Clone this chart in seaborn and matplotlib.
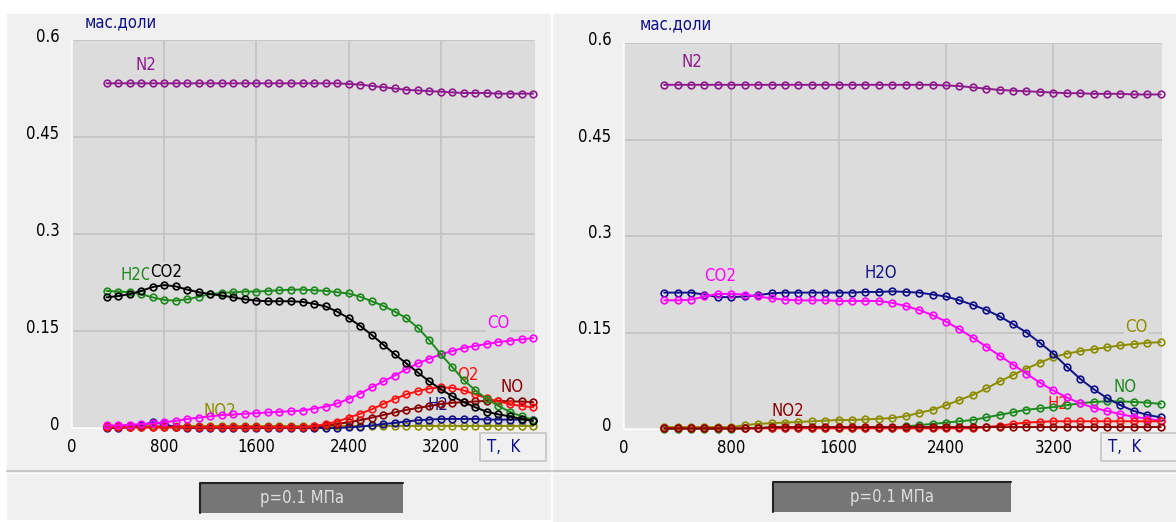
"""
Equilibrium composition vs temperature, two panels (mass fractions).
Recreated with seaborn/matplotlib, saved to out.png
"""

import matplotlib
matplotlib.use('Agg')
import matplotlib.pyplot as plt
import matplotlib.transforms as mtrans
from matplotlib.patches import Rectangle
from matplotlib.lines import Line2D
from matplotlib import font_manager
import seaborn as sns

# ── Data ──────────────────────────────────────────────────────────────────────
T = [300, 400, 500, 600, 700, 800, 900, 1000, 1100, 1200,
     1300, 1400, 1500, 1600, 1700, 1800, 1900, 2000, 2100, 2200,
     2300, 2400, 2500, 2600, 2700, 2800, 2900, 3000, 3100, 3200,
     3300, 3400, 3500, 3600, 3700, 3800, 3900, 4000]

# left panel
N2_L = [0.533, 0.533, 0.533, 0.533, 0.533, 0.533, 0.533, 0.533, 0.533, 0.533,
        0.533, 0.533, 0.533, 0.533, 0.533, 0.533, 0.533, 0.533, 0.533, 0.533,
        0.533, 0.532, 0.531, 0.529, 0.527, 0.525, 0.523, 0.522, 0.521, 0.520,
        0.519, 0.518, 0.518, 0.518, 0.517, 0.517, 0.517, 0.517]
H2O_L = [0.212, 0.211, 0.210, 0.207, 0.202, 0.198, 0.197, 0.199, 0.203, 0.207,
         0.209, 0.210, 0.211, 0.211, 0.212, 0.213, 0.214, 0.214, 0.213, 0.212,
         0.210, 0.208, 0.203, 0.196, 0.189, 0.180, 0.170, 0.155, 0.136, 0.114,
         0.094, 0.074, 0.058, 0.045, 0.034, 0.025, 0.018, 0.013]
CO2_L = [0.202, 0.204, 0.207, 0.212, 0.218, 0.221, 0.219, 0.214, 0.210, 0.207,
         0.205, 0.202, 0.199, 0.197, 0.196, 0.196, 0.196, 0.195, 0.192, 0.188,
         0.180, 0.170, 0.158, 0.144, 0.129, 0.114, 0.100, 0.086, 0.072, 0.060,
         0.049, 0.040, 0.032, 0.025, 0.021, 0.018, 0.014, 0.011]
CO_L = [0.004, 0.004, 0.005, 0.006, 0.007, 0.009, 0.011, 0.014, 0.016, 0.018,
        0.020, 0.021, 0.022, 0.023, 0.024, 0.025, 0.026, 0.027, 0.030, 0.033,
        0.038, 0.045, 0.053, 0.063, 0.072, 0.081, 0.091, 0.100, 0.107, 0.114,
        0.119, 0.124, 0.127, 0.130, 0.133, 0.135, 0.137, 0.139]
O2_L = [0.001, 0.001, 0.001, 0.001, 0.001, 0.001, 0.001, 0.001, 0.001, 0.001,
        0.001, 0.001, 0.001, 0.001, 0.001, 0.001, 0.001, 0.001, 0.003, 0.006,
        0.010, 0.016, 0.022, 0.029, 0.037, 0.045, 0.052, 0.057, 0.061, 0.063,
        0.062, 0.058, 0.052, 0.046, 0.041, 0.037, 0.034, 0.032]
NO_L = [0.001, 0.001, 0.001, 0.001, 0.001, 0.001, 0.001, 0.001, 0.001, 0.001,
        0.001, 0.001, 0.001, 0.001, 0.001, 0.001, 0.001, 0.001, 0.002, 0.004,
        0.006, 0.009, 0.012, 0.016, 0.020, 0.024, 0.028, 0.031, 0.034, 0.037,
        0.039, 0.040, 0.041, 0.042, 0.042, 0.041, 0.041, 0.040]
H2_L = [0.000, 0.000, 0.001, 0.004, 0.009, 0.006, 0.001, 0.000, 0.000, 0.000,
        0.000, 0.000, 0.000, 0.000, 0.000, 0.000, 0.000, 0.000, 0.000, 0.000,
        0.000, 0.001, 0.002, 0.004, 0.006, 0.008, 0.010, 0.012, 0.013, 0.014,
        0.014, 0.014, 0.014, 0.013, 0.013, 0.013, 0.013, 0.013]
NO2_L = [0.003, 0.003, 0.003, 0.003, 0.003, 0.003, 0.003, 0.003, 0.003, 0.003,
         0.003, 0.003, 0.003, 0.003, 0.003, 0.003, 0.003, 0.003, 0.003, 0.003,
         0.003, 0.003, 0.003, 0.003, 0.003, 0.003, 0.003, 0.003, 0.003, 0.003,
         0.003, 0.003, 0.003, 0.003, 0.003, 0.003, 0.003, 0.003]

# right panel
N2_R = [0.535, 0.535, 0.535, 0.535, 0.535, 0.535, 0.535, 0.535, 0.535, 0.535,
        0.535, 0.535, 0.535, 0.535, 0.535, 0.535, 0.535, 0.535, 0.535, 0.535,
        0.535, 0.534, 0.533, 0.531, 0.529, 0.527, 0.526, 0.525, 0.524, 0.523,
        0.522, 0.522, 0.521, 0.521, 0.521, 0.520, 0.520, 0.520]
H2O_R = [0.212, 0.212, 0.212, 0.209, 0.205, 0.205, 0.206, 0.208, 0.211, 0.212,
         0.212, 0.212, 0.212, 0.212, 0.212, 0.213, 0.213, 0.214, 0.213, 0.212,
         0.209, 0.206, 0.200, 0.193, 0.185, 0.175, 0.163, 0.150, 0.134, 0.117,
         0.097, 0.078, 0.062, 0.048, 0.037, 0.028, 0.022, 0.018]
CO2_R = [0.200, 0.200, 0.201, 0.206, 0.210, 0.210, 0.209, 0.206, 0.203, 0.201,
         0.200, 0.200, 0.200, 0.199, 0.199, 0.199, 0.199, 0.196, 0.191, 0.185,
         0.177, 0.167, 0.155, 0.142, 0.128, 0.114, 0.100, 0.086, 0.072, 0.060,
         0.049, 0.040, 0.033, 0.028, 0.023, 0.019, 0.016, 0.013]
CO_R = [0.003, 0.003, 0.003, 0.003, 0.003, 0.003, 0.006, 0.008, 0.009, 0.010,
        0.011, 0.012, 0.013, 0.014, 0.014, 0.015, 0.016, 0.017, 0.020, 0.025,
        0.030, 0.037, 0.045, 0.053, 0.063, 0.074, 0.084, 0.094, 0.103, 0.112,
        0.117, 0.121, 0.124, 0.127, 0.130, 0.132, 0.134, 0.135]
NO_R = [0.000, 0.000, 0.000, 0.000, 0.000, 0.000, 0.001, 0.002, 0.002, 0.002,
        0.002, 0.002, 0.002, 0.002, 0.002, 0.002, 0.002, 0.002, 0.004, 0.006,
        0.008, 0.010, 0.012, 0.014, 0.018, 0.022, 0.026, 0.030, 0.032, 0.034,
        0.037, 0.040, 0.042, 0.043, 0.043, 0.042, 0.041, 0.039]
NO2_R = [0.001, 0.001, 0.001, 0.001, 0.001, 0.001, 0.001, 0.001, 0.003, 0.003,
         0.003, 0.003, 0.003, 0.003, 0.003, 0.003, 0.003, 0.003, 0.003, 0.003,
         0.003, 0.003, 0.003, 0.003, 0.003, 0.003, 0.003, 0.003, 0.003, 0.003,
         0.003, 0.003, 0.003, 0.003, 0.003, 0.003, 0.003, 0.003]
H2_R = [0.001, 0.001, 0.001, 0.001, 0.001, 0.001, 0.001, 0.001, 0.001, 0.001,
        0.001, 0.001, 0.001, 0.001, 0.001, 0.001, 0.001, 0.001, 0.001, 0.001,
        0.001, 0.001, 0.001, 0.001, 0.003, 0.005, 0.008, 0.010, 0.011, 0.012,
        0.012, 0.012, 0.012, 0.012, 0.012, 0.012, 0.012, 0.012]

X_TICKS = [0, 800, 1600, 2400, 3200]
Y_TICKS = [0, 0.15, 0.3, 0.45, 0.6]
Y_TICKLABELS = ['0', '0.15', '0.3', '0.45', '0.6']

# ── Style ─────────────────────────────────────────────────────────────────────
W, H = 1176, 522
PANEL_BG = '#f0f0f0'
PLOT_BG  = '#dcdcdc'
GRID     = '#c4c4c4'
NAVY     = '#10108a'

C_N2   = '#8e1a8e'
C_GRN  = '#1e8a1e'
C_BLK  = '#000000'
C_MAG  = '#ff00ff'
C_OLV  = '#8c8c00'
C_RED  = '#ff1010'
C_DRED = '#8b0000'
C_BLUE = '#10108a'

sns.set_style('white')
plt.rcParams['font.family'] = ['DejaVu Sans']
condensed = any(f.name == 'DejaVu Sans' and f.stretch == 'condensed'
                for f in font_manager.fontManager.ttflist)
if condensed:
    plt.rcParams['font.stretch'] = 'condensed'
    FS = 12
else:
    FS = 11


def px_box(x0, y0, x1, y1):
    # image pixels (top-left origin) -> figure fraction rect
    return [x0 / W, 1 - y1 / H, (x1 - x0) / W, (y1 - y0) / H]


fig = plt.figure(figsize=(W / 100, H / 100), dpi=100, facecolor='white')


def fig_rect(x0, y0, x1, y1, **kw):
    r = Rectangle((x0 / W, 1 - y1 / H), (x1 - x0) / W, (y1 - y0) / H,
                  transform=fig.transFigure, **kw)
    fig.patches.append(r)
    return r


def fig_line(xs, ys, **kw):
    fig.lines.append(Line2D([x / W for x in xs], [1 - y / H for y in ys],
                            transform=fig.transFigure, **kw))


PANELS = [
    dict(bg=(7, 14, 551, 520), ax=(72, 40, 535, 428), xmax=4017,
         sep=(7, 551, 471), button=(200, 483, 403, 513), tk=(480, 433, 546, 461),
         ylab=(85, 22),
         series=[(N2_L, C_N2), (NO2_L, C_OLV), (H2_L, C_BLUE), (NO_L, C_DRED),
                 (O2_L, C_RED), (CO_L, C_MAG), (H2O_L, C_GRN), (CO2_L, C_BLK)],
         labels=[('N2', 547, 0.561, C_N2), ('H2O', 425, 0.237, C_GRN),
                 ('CO2', 677, 0.241, C_BLK), ('NO2', 1145, 0.026, C_OLV),
                 ('CO', 3600, 0.162, C_MAG), ('O2', 3340, 0.082, C_RED),
                 ('NO', 3722, 0.063, C_DRED), ('H2', 3080, 0.036, C_BLUE)]),
    dict(bg=(553, 14, 1176, 522), ax=(624, 43, 1162, 429), xmax=4010,
         sep=(553, 1176, 471), button=(773, 482, 1011, 512), tk=(1101, 433, 1182, 461),
         ylab=(640, 24),
         series=[(N2_R, C_N2), (NO_R, C_GRN), (CO_R, C_OLV), (H2O_R, C_BLUE),
                 (CO2_R, C_MAG), (H2_R, C_RED), (NO2_R, C_DRED)],
         labels=[('N2', 425, 0.570, C_N2), ('CO2', 596, 0.238, C_MAG),
                 ('H2O', 1796, 0.243, C_BLUE), ('CO', 3734, 0.159, C_OLV),
                 ('NO', 3645, 0.065, C_GRN), ('NO2', 1103, 0.028, C_DRED),
                 ('H2', 3153, 0.039, C_RED)]),
]

for p in PANELS:
    # window background, separator, pressure button
    fig_rect(*p['bg'], facecolor=PANEL_BG, edgecolor='none', zorder=-10)
    sx0, sx1, sy = p['sep']
    fig_line([sx0, sx1], [sy, sy], color='#c8c8c8', lw=1.5, zorder=-5)
    fig_line([sx0, sx1], [sy + 1.5, sy + 1.5], color='white', lw=0.8, zorder=-5)

    bx0, by0, bx1, by1 = p['button']
    fig_rect(bx0, by0, bx1, by1, facecolor='#767676', edgecolor='none', zorder=1)
    fig_line([bx0, bx0, bx1], [by1, by0, by0], color='#222222', lw=1.5, zorder=2)
    fig.text((bx0 + bx1) / 2 / W, 1 - (by0 + by1) / 2 / H, 'p=0.1 МПа',
             color='#dedede', fontsize=FS, ha='center', va='center')

    tx0, ty0, tx1, ty1 = p['tk']
    fig_rect(tx0, ty0, tx1, ty1, facecolor=PANEL_BG, edgecolor='#c4c4c4',
             lw=1.2, zorder=1)
    fig.text((tx0 + 7) / W, 1 - (ty0 + ty1) / 2 / H, 'T,  K', color=NAVY,
             fontsize=FS, ha='left', va='center', zorder=3)

    fig.text(p['ylab'][0] / W, 1 - p['ylab'][1] / H, 'мас.доли', color=NAVY,
             fontsize=FS, ha='left', va='center')

    # plot area
    ax = fig.add_axes(px_box(*p['ax']))
    ax.set_facecolor(PLOT_BG)
    ax.set_axisbelow(True)

    for vals, col in p['series']:
        sns.lineplot(x=T, y=vals, ax=ax, color=col, linewidth=1.4,
                     marker='o', markersize=4.8, markerfacecolor='none',
                     markeredgecolor=col, markeredgewidth=1.2,
                     clip_on=False, zorder=3)

    for txt, tx, ty, col in p['labels']:
        ax.text(tx, ty, txt, color=col, fontsize=FS, ha='left', va='center',
                zorder=2, bbox=dict(facecolor=PLOT_BG, edgecolor='none', pad=0.6))

    ax.set_xlim(0, p['xmax'])
    ax.set_ylim(0, 0.6)
    ax.set_xticks(X_TICKS)
    ax.set_yticks(Y_TICKS)
    ax.set_yticklabels(Y_TICKLABELS)
    ax.tick_params(axis='both', length=0, labelsize=FS, colors='black')
    ax.tick_params(axis='x', pad=7)
    ax.tick_params(axis='y', pad=9)
    up = mtrans.ScaledTranslation(0, 5 / 100, fig.dpi_scale_trans)
    for lab in ax.get_yticklabels():
        lab.set_transform(lab.get_transform() + up)
    ax.grid(True, color=GRID, lw=1.3)
    for side in ['top', 'right']:
        ax.spines[side].set_visible(False)
    for side in ['left', 'bottom']:
        ax.spines[side].set_color('white')
        ax.spines[side].set_linewidth(1.2)
    ax.set_xlabel('')
    ax.set_ylabel('')

plt.savefig('out.png', dpi=100)
plt.close()
print("Saved: out.png")
